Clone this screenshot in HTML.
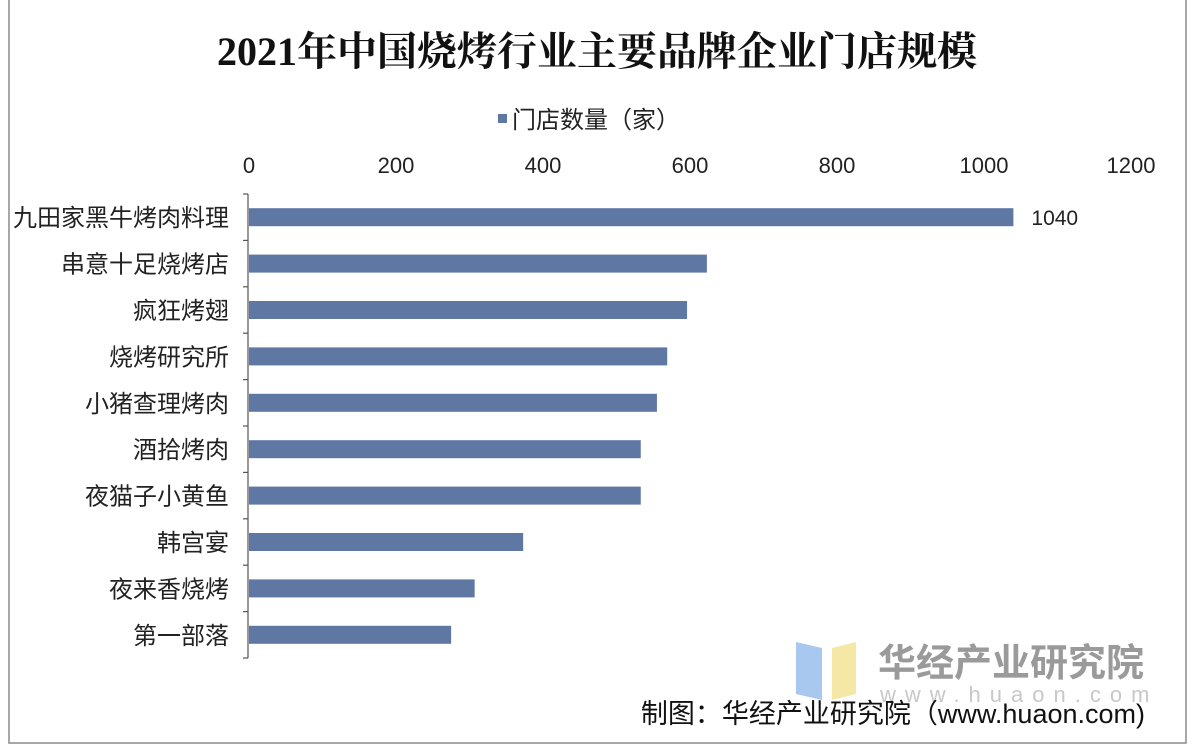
<!DOCTYPE html>
<html><head><meta charset="utf-8"><style>
body{margin:0;background:#fff;}
svg{display:block;font-family:"Liberation Sans","Noto Sans CJK SC",sans-serif;}
</style></head><body>
<svg width="1194" height="752" xmlns="http://www.w3.org/2000/svg">
<rect x="9" y="-2" width="1177" height="745" fill="#fff" stroke="#8a8a8a" stroke-width="1.5"/>
<text x="597" y="65" text-anchor="middle" font-family="'Liberation Serif','Noto Serif CJK SC',serif" font-weight="bold" font-size="40" fill="#111">2021年中国烧烤行业主要品牌企业门店规模</text>
<rect x="498" y="114" width="9" height="9" fill="#5f77a3"/>
<text x="512" y="128" font-size="24" fill="#222">门店数量（家）</text>
<g id="axis"></g>
<g id="bars"></g>
<g>
<polygon points="796,642 822,648 822,700 796,694" fill="#a9c8ef"/>
<polygon points="832,648 856,642 856,694 832,700" fill="#f5e8a6"/>
<text x="878" y="676" font-size="38" fill="#9a9a9a" font-weight="bold">华经产业研究院</text>
<text x="880" y="702" font-size="22" fill="#c8c8c8" letter-spacing="9">www.huaon.com</text>
</g>
<text x="1145" y="723" text-anchor="end" font-size="27" fill="#111">制图：华经产业研究院（www.huaon.com)</text>
<script>
const categories=["九田家黑牛烤肉料理","串意十足烧烤店","疯狂烤翅","烧烤研究所","小猪查理烤肉","酒拾烤肉","夜猫子小黄鱼","韩宫宴","夜来香烧烤","第一部落"];
const values=[1040,623,596,569,555,533,533,373,307,275];
const ticks=[0,200,400,600,800,1000,1200];
const labels=[null,null,null,null,null,null,null,null,null,null];
labels[0]="1040";
const NS="http://www.w3.org/2000/svg";
const x0=249,sc=0.735,yTop=194,band=46.4,bh=18;
const xs=v=>x0+v*sc, yc=i=>yTop+band*(i+0.5);
const ax=document.getElementById('axis'),bg=document.getElementById('bars');
function mk(t,a,p){const e=document.createElementNS(NS,t);for(const k in a)e.setAttribute(k,a[k]);p.appendChild(e);return e;}
ticks.forEach(t=>{const e=mk('text',{x:xs(t),y:173,'text-anchor':'middle','font-size':'22',fill:'#222'},ax);e.textContent=t;

});
const al=mk('line',{x1:x0-1,x2:x0-1,y1:yTop,y2:yTop+band*categories.length,stroke:'#555','stroke-width':1.2},ax);


for(let i=0;i<=categories.length;i++){const l=mk('line',{x1:x0-6,x2:x0-1,y1:yTop+band*i,y2:yTop+band*i,stroke:'#555','stroke-width':1.2},ax);

}
categories.forEach((c,i)=>{
const t=mk('text',{x:x0-20,y:yc(i)+9,'text-anchor':'end','font-size':'24',fill:'#222'},ax);t.textContent=c;


const r=mk('rect',{x:x0,y:yc(i)-bh/2,width:xs(values[i])-x0,height:bh,fill:'#5f77a3'},bg);


if(labels[i]){const v=mk('text',{x:xs(values[i])+18,y:yc(i)+8,'font-size':'21',fill:'#222'},bg);v.textContent=labels[i];

}
});
</script>
</svg>
</body></html>
